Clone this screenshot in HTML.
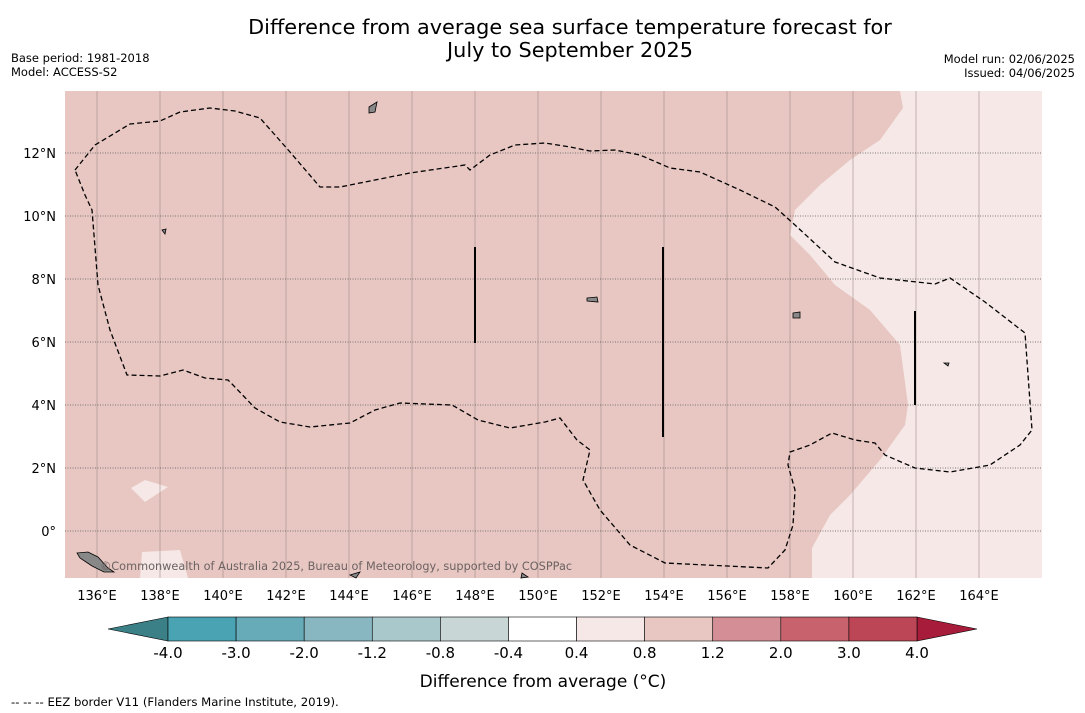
<!DOCTYPE html>
<html><head><meta charset="utf-8"><style>
body{margin:0;background:#fff;font-family:"Liberation Sans","DejaVu Sans",sans-serif}
svg{display:block}
</style></head><body>
<svg id="s" width="1085" height="713" xmlns="http://www.w3.org/2000/svg">
<text x="570" y="34" font-size="20.8" text-anchor="middle" font-family="DejaVu Sans">Difference from average sea surface temperature forecast for</text>
<text x="570" y="57" font-size="20.8" text-anchor="middle" font-family="DejaVu Sans">July to September 2025</text>
<text x="11" y="62" font-size="11.5" font-family="DejaVu Sans">Base period: 1981-2018</text>
<text x="11" y="76" font-size="11.5" font-family="DejaVu Sans">Model: ACCESS-S2</text>
<text x="1075" y="63" font-size="11.5" text-anchor="end" font-family="DejaVu Sans">Model run: 02/06/2025</text>
<text x="1075" y="77" font-size="11.5" text-anchor="end" font-family="DejaVu Sans">Issued: 04/06/2025</text>
<g id="map">
<rect x="65" y="91" width="977" height="487" fill="#e8c7c2"/>
<polygon fill="#f5e8e6" points="900,91 903,108 880,140 850,160 820,185 795,210 790,235 810,255 835,285 870,310 900,345 908,405 905,425 880,460 850,495 830,515 812,548 812,578 1042,578 1042,91"/>
<polygon fill="#f5e8e6" points="131,488 145,480 168,487 145,502"/>
<polygon fill="#f5e8e6" points="142,552 180,550 188,578 140,578"/>
<g id="grid"></g>
<polyline fill="none" stroke="#000" stroke-width="1.3" stroke-dasharray="5,3" points="75,170 95,145 130,124 160,121 180,112 210,108 235,111 260,118 290,152 320,187 340,187 410,173 465,165 470,170 490,155 515,145 545,143 570,147 590,151 615,150 640,155 670,168 700,172 740,190 775,207 795,225 835,262 880,278 935,284 950,278 985,302 1025,333 1032,430 1020,445 990,465 950,472 915,468 885,455 875,443 855,440 832,433 810,445 790,452 788,465 795,490 793,525 785,550 768,568 665,563 630,545 600,510 583,480 590,450 577,440 560,418 545,422 510,428 478,420 452,405 400,403 375,410 350,423 310,427 280,422 255,408 233,385 228,380 205,378 183,370 160,376 127,375 110,330 98,285 92,210 85,195 75,170"/>
<g stroke="#000" stroke-width="2">
<line x1="475" y1="247" x2="475" y2="343"/><line x1="663" y1="247" x2="663" y2="437"/><line x1="915" y1="311" x2="915" y2="405"/>
</g>
<g fill="#888" stroke="#000" stroke-width="0.8">
<path d="M369,107 L377,102 L375,112 L369,113Z"/><path d="M793,313 L800,312 L800,318 L793,318Z"/><path d="M587,298 L597,297 L598,302 L587,301Z"/>
<path d="M77,553 L88,552 L98,557 L108,568 L114,572 L104,572 L92,566 L80,558Z"/><path d="M162,230 L166,229 L165,234Z"/><path d="M944,363 L949,363 L948,366Z"/>
<path d="M522,573 L528,577 L521,578Z"/><path d="M350,575 L360,572 L356,578Z"/>
</g>
<text x="100" y="570" font-size="11.3" fill="#6b6262" font-family="DejaVu Sans">©Commonwealth of Australia 2025, Bureau of Meteorology, supported by COSPPac</text>
</g>
<g id="ticks"></g>
<g id="cbar"></g>
<text x="543" y="687" font-size="17" text-anchor="middle" font-family="DejaVu Sans">Difference from average (°C)</text>
<text x="11" y="706" font-size="11.7" font-family="DejaVu Sans">--  --  -- EEZ border V11 (Flanders Marine Institute, 2019).</text>
</svg>
<script>
const lonTicks=[136,138,140,142,144,146,148,150,152,154,156,158,160,162,164];
const latTicks=[0,2,4,6,8,10,12];
const cbLevels=["-4.0","-3.0","-2.0","-1.2","-0.8","-0.4","0.4","0.8","1.2","2.0","3.0","4.0"];
const cbColors=["#4aa3b2","#67aab8","#88b7c1","#a8c8cc","#c9d6d6","#ffffff","#f5e8e6","#e8c7c2","#d48e95","#c8636e","#bd4656"];
const NS="http://www.w3.org/2000/svg";
const xLon=lon=>97+(lon-136)*31.5, yLat=lat=>531-lat*31.5;
function mk(t,a,p){const e=document.createElementNS(NS,t);for(const k in a)e.setAttribute(k,a[k]);p.appendChild(e);return e;}
const gG=document.getElementById('grid'),tk=document.getElementById('ticks'),cb=document.getElementById('cbar');
lonTicks.forEach(l=>{
 const ln=mk('line',{x1:xLon(l),x2:xLon(l),y1:91,y2:578,stroke:'#8a7775','stroke-width':0.8,'stroke-opacity':0.6},gG);
 
 
 const t=mk('text',{x:xLon(l),y:600,'font-size':13,'text-anchor':'middle','font-family':'DejaVu Sans'},tk);
 t.textContent=l+'°E';
 
 
});
latTicks.forEach(l=>{
 const ln=mk('line',{x1:65,x2:1042,y1:yLat(l),y2:yLat(l),stroke:'#555','stroke-width':0.8,'stroke-dasharray':'1,1.5'},gG);
 
 
 const t=mk('text',{x:56,y:yLat(l)+5,'font-size':13,'text-anchor':'end','font-family':'DejaVu Sans'},tk);
 t.textContent=l===0?'0°':l+'°N';
 
 
});
const cx0=168,cx1=917,bw=(cx1-cx0)/cbColors.length,cbTop=617,cbH=24;
const lt=mk('polygon',{points:`${cx0},${cbTop} 108,${cbTop+cbH/2} ${cx0},${cbTop+cbH}`,fill:'#3b7f87',stroke:'#000','stroke-width':0.6},cb);


const rt=mk('polygon',{points:`${cx1},${cbTop} 977,${cbTop+cbH/2} ${cx1},${cbTop+cbH}`,fill:'#a61c3a',stroke:'#000','stroke-width':0.6},cb);


cbColors.forEach((c,i)=>{
 const r=mk('rect',{x:cx0+i*bw,y:cbTop,width:bw,height:cbH,fill:c,stroke:'#000','stroke-width':0.6},cb);
 
 
});
cbLevels.forEach((v,i)=>{
 const t=mk('text',{x:cx0+i*bw,y:658,'font-size':15,'text-anchor':'middle','font-family':'DejaVu Sans'},cb);
 t.textContent=v;
 
 
});
</script>
</body></html>
